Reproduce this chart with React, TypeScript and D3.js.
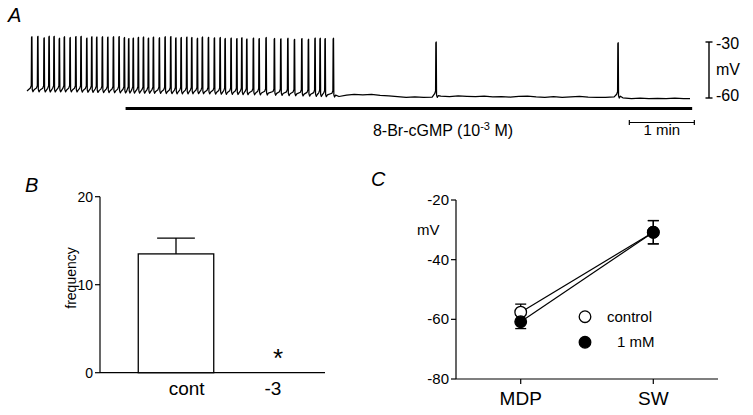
import React from 'react';
import * as d3 from 'd3';

// ---------- Panel A data ----------
const spikeTimes = [4.3, 9.9, 15.7, 20.3, 24.9, 29.8, 34.4, 39.7, 45.0, 49.8,
  55.1, 59.7, 64.3, 69.5, 74.5, 79.7, 84.9, 89.8, 93.8, 98.0,
  102.7, 107.4, 112.0, 116.6, 122.1, 127.4, 132.6, 137.3, 142.2, 147.4,
  152.0, 157.2, 161.8, 167.4, 172.9, 178.2, 182.8, 188.3, 193.6, 198.2,
  202.8, 208.9, 214.2, 220.6, 228.3, 234.2, 240.7, 246.8, 253.6, 259.7,
  265.8, 270.5, 275.1, 282.7];
const spikePeaks = [-27.6, -27.4, -28.2, -27.3, -27.4, -28.4, -27.6, -28.0, -27.5, -27.4,
  -28.3, -27.6, -27.7, -27.6, -27.8, -27.6, -27.5, -28.0, -28.6, -28.3,
  -27.9, -27.7, -28.3, -27.8, -28.1, -27.6, -27.5, -28.2, -28.0, -27.8,
  -28.0, -28.4, -27.7, -27.9, -28.2, -28.0, -28.5, -28.3, -28.6, -28.1,
  -28.8, -28.3, -28.6, -28.0, -28.5, -28.7, -28.4, -29.0, -28.6, -28.9,
  -28.3, -28.4, -28.6, -28.4];
const lateSpikeTimes = [377.5, 545.5];
const lateSpikePeaks = [-30.4, -30.8];
const baseT = [0, 20, 40, 60, 80, 100, 120, 140, 160, 180, 200, 220, 240, 260, 280,
  288, 295, 302,
  310, 318, 326, 334, 342, 350, 358, 366, 374, 382, 390, 398, 406, 414, 422, 430, 438,
  446, 454, 462, 470, 478, 486, 494, 502, 510, 518, 526, 534, 542, 550, 558, 566, 574,
  582, 590, 598, 606, 612];
const baseV = [-56.2, -56.4, -56.3, -56.6, -56.8, -57.0, -57.1, -57.4, -57.3, -57.6, -57.8, -58.0, -58.3, -58.6, -59.0,
  -59.2, -58.4, -58.1,
  -58.3, -58.0, -58.6, -58.9, -59.3, -59.6, -59.4, -59.7, -59.5, -59.0, -59.2, -58.8, -59.1, -59.3, -59.0, -59.4, -59.2,
  -59.5, -59.1, -59.0, -59.4, -59.6, -59.3, -59.6, -59.4, -59.1, -59.5, -59.7, -59.6, -59.4, -59.9, -60.3, -60.1, -60.4,
  -60.2, -60.4, -60.1, -60.3, -60.3];
const drugOnOff = [91, 614]; // s
const timeBar = [556, 616]; // s (1 min)
const voltBar = [-30, -60];

// ---------- Panel B data ----------
const freqCats = ['cont', '-3'];
const freqMean = [13.5, 0];
const freqSem = [1.8, 0];
const freqMark = ['', '*'];
const freqTicks = [0, 10, 20];

// ---------- Panel C data ----------
const cCats = ['MDP', 'SW'];
const controlMean = [-57.6, -30.8];
const controlSem = [2.7, 3.9];
const mMMean = [-60.8, -30.8];
const mMSem = [2.3, 3.9];
const cTicks = [-20, -40, -60, -80];
const legendLabels = ['control', '1 mM'];

const FONT = 'Liberation Sans, Arial, Helvetica, sans-serif';

export default function App() {
  // Panel A scales
  const xA = d3.scaleLinear().domain([0, 612]).range([27, 690]);
  const yA = d3.scaleLinear().domain([-60, -30]).range([98, 42]);
  const baseAt = (t: number) => {
    const i = Math.max(1, Math.min(baseT.length - 1, d3.bisectLeft(baseT, t)));
    const t0 = baseT[i - 1], t1 = baseT[i];
    const f = Math.max(0, Math.min(1, (t - t0) / (t1 - t0)));
    return baseV[i - 1] + f * (baseV[i] - baseV[i - 1]);
  };
  const pts: [number, number][] = [];
  const addSpike = (t: number, p: number) => {
    const b = baseAt(t);
    pts.push([t - 1.2, b + 1.6]);
    pts.push([t - 0.35, b + 3.0]);
    pts.push([t - 0.1, p]);
    pts.push([t + 0.25, p + 0.4]);
    pts.push([t + 0.55, b + 0.8]);
    pts.push([t + 1.2, b - 0.4]);
    pts.push([t + 2.2, b + 0.6]);
  };
  pts.push([0, baseAt(0)]);
  spikeTimes.forEach((t, i) => addSpike(t, spikePeaks[i]));
  const lastSpike = spikeTimes[spikeTimes.length - 1];
  baseT.forEach((t, i) => {
    if (t > lastSpike + 2.5 && !lateSpikeTimes.some((s) => Math.abs(s - t) < 3)) pts.push([t, baseV[i]]);
  });
  lateSpikeTimes.forEach((t, i) => addSpike(t, lateSpikePeaks[i]));
  pts.sort((a, b) => a[0] - b[0]);
  const trace = d3.line<[number, number]>().x((d) => xA(d[0])).y((d) => yA(d[1]))(pts) || '';

  // Panel B scales
  const xB = d3.scaleBand<string>().domain(freqCats).range([125, 329]).paddingInner(0.26).paddingOuter(0.13);
  const xBL = d3.scalePoint<string>().domain(freqCats).range([186.7, 273]);
  const yB = d3.scaleLinear().domain([0, 20]).range([372.7, 196.7]);

  // Panel C scales
  const xC = d3.scalePoint<string>().domain(cCats).range([456, 718]).padding(0.488);
  const yC = d3.scaleLinear().domain([-80, -20]).range([379, 200]);
  const lineC = d3.line<number>().x((_, i) => xC(cCats[i]) as number).y((d) => yC(d));
  const R = 5.8;

  const errBar = (x: number, m: number, s: number, key: string, cap = 5.5) => (
    <g key={key} stroke="#000" strokeWidth={1.3}>
      <line x1={x} x2={x} y1={yC(m + s)} y2={yC(m - s)} />
      <line x1={x - cap} x2={x + cap} y1={yC(m + s)} y2={yC(m + s)} />
      <line x1={x - cap} x2={x + cap} y1={yC(m - s)} y2={yC(m - s)} />
    </g>
  );

  return (
    <svg width={753} height={415} style={{ position: 'absolute', left: 0, top: 0, background: '#fff' }} fontFamily={FONT}>
      <rect x={0} y={0} width={753} height={415} fill="#fff" />
      {/* ---------- Panel A ---------- */}
      <text x={8} y={22} fontSize={20} fontStyle="italic">A</text>
      <path d={trace} fill="none" stroke="#000" strokeWidth={1.25} strokeLinejoin="round" />
      <line x1={xA(drugOnOff[0])} x2={xA(drugOnOff[1])} y1={108.5} y2={108.5} stroke="#000" strokeWidth={3} />
      <text x={443} y={136} fontSize={16} textAnchor="middle">
        8-Br-cGMP (10<tspan dy={-6} fontSize={11}>-3</tspan><tspan dy={6}> M)</tspan>
      </text>
      <g stroke="#000" strokeWidth={1.2}>
        <line x1={xA(timeBar[0])} x2={xA(timeBar[1])} y1={122.5} y2={122.5} />
        <line x1={xA(timeBar[0])} x2={xA(timeBar[0])} y1={120} y2={125} />
        <line x1={xA(timeBar[1])} x2={xA(timeBar[1])} y1={120} y2={125} />
      </g>
      <text x={(xA(timeBar[0]) + xA(timeBar[1])) / 2} y={135} fontSize={15} textAnchor="middle">1 min</text>
      <g stroke="#000" strokeWidth={1.4}>
        <line x1={709} x2={709} y1={yA(voltBar[0])} y2={yA(voltBar[1])} />
        <line x1={705.5} x2={712.5} y1={yA(voltBar[0])} y2={yA(voltBar[0])} />
        <line x1={705.5} x2={712.5} y1={yA(voltBar[1])} y2={yA(voltBar[1])} />
      </g>
      <text x={716} y={yA(voltBar[0]) + 7} fontSize={16}>{voltBar[0]}</text>
      <text x={716} y={75} fontSize={16}>mV</text>
      <text x={716} y={yA(voltBar[1]) + 3} fontSize={16}>{voltBar[1]}</text>

      {/* ---------- Panel B ---------- */}
      <text x={25} y={192} fontSize={20} fontStyle="italic">B</text>
      <g stroke="#000" strokeWidth={1.2}>
        <line x1={100} x2={100} y1={yB(20)} y2={yB(0)} />
        <line x1={100} x2={325} y1={yB(0)} y2={yB(0)} />
        {freqTicks.map((t) => (
          <line key={t} x1={95} x2={100} y1={yB(t)} y2={yB(t)} />
        ))}
      </g>
      {freqTicks.map((t) => (
        <text key={t} x={93} y={yB(t) + 4.8} fontSize={14} textAnchor="end">{t}</text>
      ))}
      <text transform={`translate(76,278) rotate(-90)`} fontSize={14} textAnchor="middle">frequency</text>
      {freqCats.map((c, i) => {
        const x0 = xB(c) as number;
        const bw = xB.bandwidth();
        const cx = x0 + bw / 2;
        return (
          <g key={c}>
            {freqMean[i] > 0 && (
              <g stroke="#000" strokeWidth={1.3}>
                <line x1={cx} x2={cx} y1={yB(freqMean[i])} y2={yB(freqMean[i] + freqSem[i])} />
                <line x1={cx - bw / 4} x2={cx + bw / 4} y1={yB(freqMean[i] + freqSem[i])} y2={yB(freqMean[i] + freqSem[i])} />
                <rect x={x0} y={yB(freqMean[i])} width={bw} height={yB(0) - yB(freqMean[i])} fill="#fff" />
              </g>
            )}
            {freqMark[i] && (
              <text x={cx} y={367} fontSize={26} textAnchor="middle">{freqMark[i]}</text>
            )}
            <text x={xBL(c) as number} y={395} fontSize={19} textAnchor="middle">{c}</text>
          </g>
        );
      })}

      {/* ---------- Panel C ---------- */}
      <text x={371} y={186} fontSize={20} fontStyle="italic">C</text>
      <g stroke="#000" strokeWidth={1.2}>
        <line x1={456} x2={456} y1={yC(-20)} y2={yC(-80)} />
        <line x1={456} x2={718} y1={yC(-80)} y2={yC(-80)} />
        {cTicks.map((t) => (
          <line key={t} x1={451} x2={456} y1={yC(t)} y2={yC(t)} />
        ))}
        {cCats.map((c) => (
          <line key={c} x1={xC(c) as number} x2={xC(c) as number} y1={yC(-80)} y2={yC(-80) + 5} />
        ))}
      </g>
      {cTicks.map((t) => (
        <text key={t} x={449} y={yC(t) + 5} fontSize={15} textAnchor="end">{t}</text>
      ))}
      <text x={417} y={235} fontSize={15}>mV</text>
      {cCats.map((c) => (
        <text key={c} x={xC(c) as number} y={405} fontSize={19} textAnchor="middle">{c}</text>
      ))}
      {cCats.map((c, i) => errBar(xC(c) as number, controlMean[i], controlSem[i], 'ec' + c))}
      {cCats.map((c, i) => errBar(xC(c) as number, mMMean[i], mMSem[i], 'em' + c))}
      <path d={lineC(controlMean) || ''} fill="none" stroke="#000" strokeWidth={1.2} />
      <path d={lineC(mMMean) || ''} fill="none" stroke="#000" strokeWidth={1.2} />
      {cCats.map((c, i) => (
        <circle key={'c' + c} cx={xC(c) as number} cy={yC(controlMean[i])} r={R} fill="#fff" stroke="#000" strokeWidth={1.3} />
      ))}
      {cCats.map((c, i) => (
        <circle key={'m' + c} cx={xC(c) as number} cy={yC(mMMean[i])} r={R} fill="#000" stroke="#000" strokeWidth={1.3} />
      ))}
      <circle cx={585} cy={316.7} r={R} fill="#fff" stroke="#000" strokeWidth={1.3} />
      <text x={607} y={321.5} fontSize={15}>{legendLabels[0]}</text>
      <circle cx={585} cy={342.3} r={R} fill="#000" stroke="#000" strokeWidth={1.3} />
      <text x={617} y={347} fontSize={15}>{legendLabels[1]}</text>
    </svg>
  );
}
